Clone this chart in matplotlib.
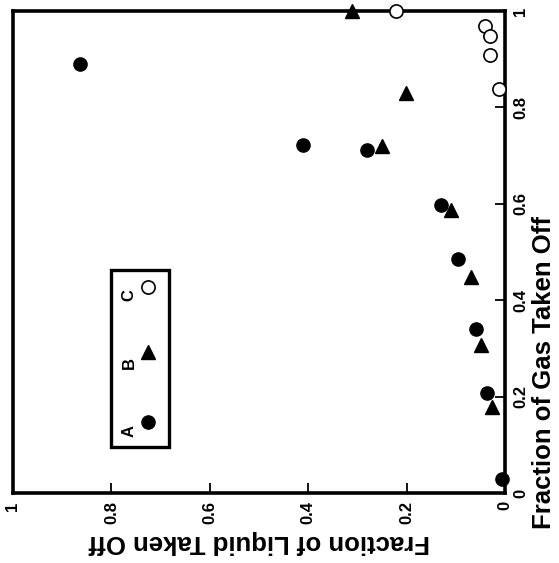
import matplotlib
matplotlib.use("Agg")
import matplotlib.pyplot as plt
from matplotlib.patches import Rectangle

plt.rcParams['font.family'] = ['Liberation Sans', 'DejaVu Sans']
plt.rcParams['font.weight'] = 'bold'

# Series A (filled circles): liquid fraction, gas fraction
a_liquid = [0.864, 0.41, 0.280, 0.130, 0.095, 0.059, 0.037, 0.006]
a_gas    = [0.890, 0.722, 0.712, 0.598, 0.486, 0.341, 0.207, 0.029]
# Series B (filled triangles)
b_liquid = [0.311, 0.201, 0.25, 0.110, 0.069, 0.049, 0.026]
b_gas    = [1.0, 0.830, 0.719, 0.588, 0.449, 0.308, 0.178]
# Series C (open circles)
c_liquid = [0.222, 0.041, 0.030, 0.030, 0.012]
c_gas    = [1.0, 0.969, 0.948, 0.909, 0.838]

ticks = [0, 0.2, 0.4, 0.6, 0.8, 1]
tick_labels = ["0", "0.2", "0.4", "0.6", "0.8", "1"]
legend_labels = ["A", "B", "C"]

fig = plt.figure(figsize=(5.59, 5.63), dpi=100)
ax = fig.add_axes([13/559, 1-493/563, 492/559, 482/563])

ax.plot(a_liquid, a_gas, 'o', color='black', ms=9.5, clip_on=False, zorder=5)
ax.plot(b_liquid, b_gas, '^', color='black', ms=10.5, clip_on=False, zorder=5)
ax.plot(c_liquid, c_gas, 'o', mfc='white', mec='black', mew=1.2, ms=9.5, clip_on=False, zorder=5)

ax.set_xlim(1, 0)
ax.set_ylim(0, 1)
for s in ax.spines.values():
    s.set_linewidth(2.6)

ax.set_xticks(ticks)
ax.set_xticklabels(tick_labels, rotation=90, va='top', ha='center')
ax.yaxis.tick_right()
ax.set_yticks(ticks)
ax.set_yticklabels(tick_labels, rotation=90, va='center', ha='left')
ax.tick_params(axis='both', direction='in', length=7, width=1.3, labelsize=12, pad=6)

ax.set_xlabel("Fraction of Liquid Taken Off", rotation=180, fontsize=18.5, fontweight='bold', labelpad=4)
ax.text(1.08, 0.25, "Fraction of Gas Taken Off", transform=ax.transAxes, rotation=90,
        fontsize=18.5, fontweight='bold', ha='center', va='center')

# Legend box (rotated layout)
ax.add_patch(Rectangle((0.199, 0.095), 0.118, 0.368, transform=ax.transAxes,
                       fill=False, lw=2.4, ec='black', zorder=6))
ax.text(0.236, 0.129, legend_labels[0], transform=ax.transAxes, rotation=90,
        ha='center', va='center', fontsize=12, fontweight='bold')
ax.plot([0.274], [0.147], 'o', color='black', ms=9.5, transform=ax.transAxes)
ax.text(0.236, 0.27, legend_labels[1], transform=ax.transAxes, rotation=90,
        ha='center', va='center', fontsize=12, fontweight='bold')
ax.plot([0.274], [0.293], '^', color='black', ms=10.5, transform=ax.transAxes)
ax.text(0.236, 0.411, legend_labels[2], transform=ax.transAxes, rotation=90,
        ha='center', va='center', fontsize=12, fontweight='bold')
ax.plot([0.274], [0.427], 'o', mfc='white', mec='black', mew=1.2, ms=9.5, transform=ax.transAxes)

fig.savefig("out.png", dpi=100)
